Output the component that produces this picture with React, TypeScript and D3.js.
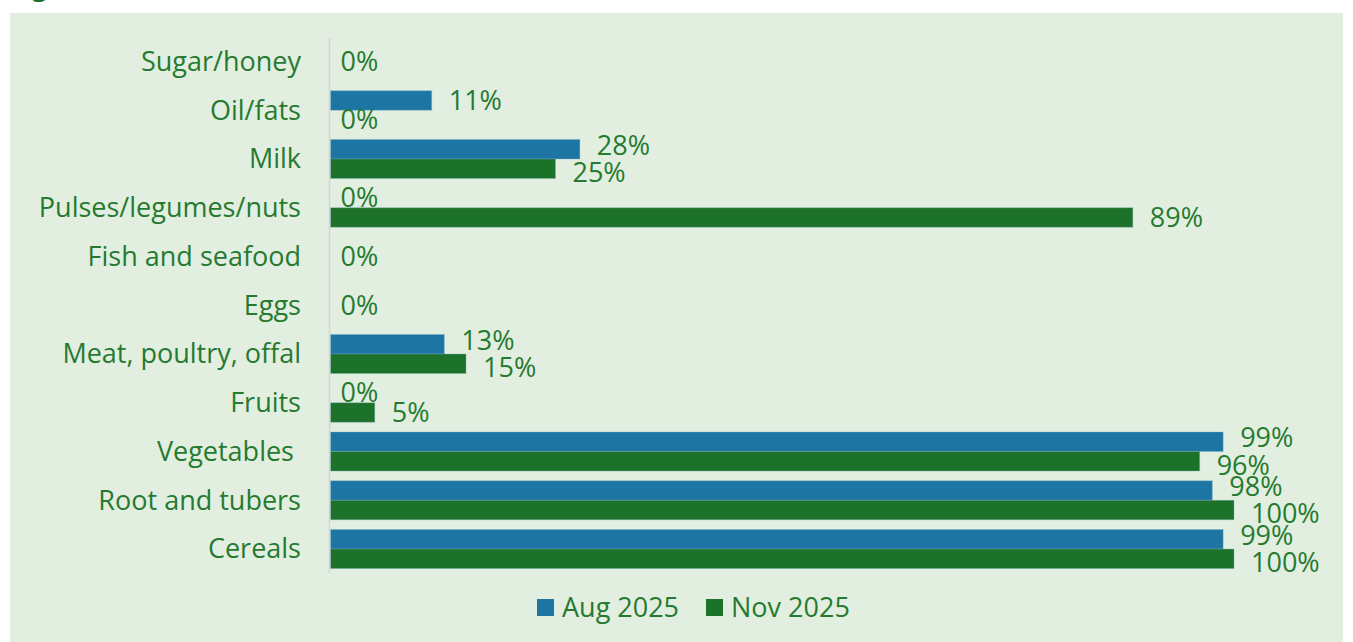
import React from "react";
import * as d3 from "d3";

const categories = [
  "Sugar/honey",
  "Oil/fats",
  "Milk",
  "Pulses/legumes/nuts",
  "Fish and seafood",
  "Eggs",
  "Meat, poultry, offal",
  "Fruits",
  "Vegetables ",
  "Root and tubers",
  "Cereals",
];
const seriesNames = ["Aug 2025", "Nov 2025"];
const aug2025: (number | null)[] = [null, 0.112, 0.276, 0, null, null, 0.126, 0, 0.988, 0.976, 0.988];
const nov2025: (number | null)[] = [0, 0, 0.249, 0.888, 0, 0, 0.15, 0.049, 0.962, 1.0, 1.0];

const W = 1353;
const H = 642;
const BG = "#E2EFE0";
const BLUE = "#1D75A3";
const GREEN = "#1C7229";
const TEXT = "#267A30";
const FONT = "'Open Sans', sans-serif";

export default function App() {
  const x = d3.scaleLinear().domain([0, 1]).range([330.5, 1234]);
  const y = d3
    .scaleBand<string>()
    .domain(categories)
    .range([37.1, 573.4])
    .paddingInner(0.2)
    .paddingOuter(0.1);
  const sub = d3
    .scaleBand<string>()
    .domain(seriesNames)
    .range([0, y.bandwidth()]);
  const series = [
    { name: seriesNames[0], values: aug2025, color: BLUE },
    { name: seriesNames[1], values: nov2025, color: GREEN },
  ];
  const fmt = d3.format(".0%");
  const fs = 27;

  return (
    <svg
      width={W}
      height={H}
      style={{ position: "absolute", left: 0, top: 0, background: "#fff" }}
      fontFamily={FONT}
    >
      <text x={32} y={-4} fontSize={26} fontWeight={700} fill="#1C6E2A">
        g
      </text>
      <rect x={10} y={13} width={1333} height={H - 13} fill={BG} />
      {categories.map((c) => (
        <text
          key={c}
          x={301}
          y={(y(c) ?? 0) + y.bandwidth() / 2}
          dy="0.35em"
          textAnchor="end"
          fontSize={fs}
          fill={TEXT}
          style={{ whiteSpace: "pre" }}
        >
          {c}
        </text>
      ))}
      {series.map((s) =>
        categories.map((c, i) => {
          const v = s.values[i];
          if (v === null) return null;
          const y0 = (y(c) ?? 0) + (sub(s.name) ?? 0);
          return (
            <rect
              key={s.name + c}
              x={x(0)}
              y={y0}
              width={Math.max(0, x(v) - x(0))}
              height={sub.bandwidth()}
              fill={s.color}
              stroke="#7FB0C8"
              strokeOpacity={0.35}
              strokeWidth={1}
            />
          );
        })
      )}
      {series.map((s, si) =>
        categories.map((c, i) => {
          const v = s.values[i];
          if (v === null) return null;
          const other = series[1 - si].values[i];
          const spread = other !== null && other > 0 && v > 0 ? (si === 0 ? -4 : 4) : 0;
          const cy =
            other === null
              ? (y(c) ?? 0) + y.bandwidth() / 2
              : (y(c) ?? 0) + (sub(s.name) ?? 0) + sub.bandwidth() / 2 + spread;
          return (
            <text
              key={"l" + s.name + c}
              x={x(v) + (v === 0 ? 10 : 17)}
              y={cy}
              dy="0.35em"
              fontSize={fs}
              fill={TEXT}
            >
              {fmt(v)}
            </text>
          );
        })
      )}
      <line x1={329.5} x2={329.5} y1={38} y2={573} stroke="#D4D4D4" strokeWidth={1.5} />
      {series.map((s, si) => {
        const lx = si === 0 ? 537 : 706;
        return (
          <g key={"lg" + s.name}>
            <rect x={lx} y={599} width={17} height={17} fill={s.color} />
            <text x={lx + 25} y={607.5} dy="0.35em" fontSize={fs} fill={TEXT}>
              {s.name}
            </text>
          </g>
        );
      })}
    </svg>
  );
}
